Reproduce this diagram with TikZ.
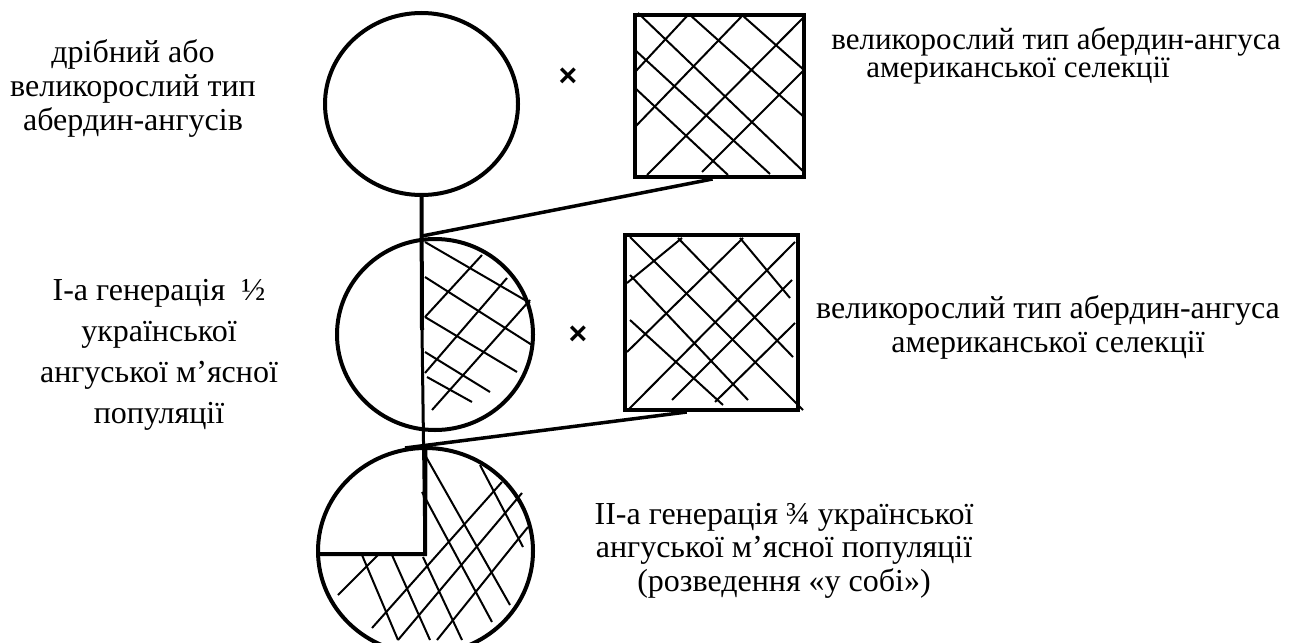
\documentclass[tikz,border=0pt]{standalone}
\usepackage{fontspec}
\setmainfont{Liberation Serif}
\newfontfamily\crossfont{Liberation Sans}
\usetikzlibrary{shapes.geometric,calc}
\begin{document}
\begin{tikzpicture}[x=0.5pt,y=-0.5pt,
  outl/.style={draw, line width=2pt, inner sep=0pt, fill=none},
  circ/.style={outl, ellipse},
  sq/.style={outl, rectangle},
  hatch/.style={line width=1pt},
  conn/.style={line width=1.75pt},
  lbl/.style={font=\fontsize{16}{16.75}\selectfont, align=center, inner sep=0pt, anchor=base},
  cross/.style={font=\crossfont\bfseries\fontsize{16}{16}\selectfont, inner sep=0pt}]
\useasboundingbox (0,0) rectangle (1299,642);

% hatching of the squares
\foreach \xa/\ya/\xb/\yb in {638/13/805/173, 690/15/804/117, 742/15/804/70, 635/50/770/174, 635/88/728/175,
                   688/15/635/72, 743/15/635/127, 804/17/647/175, 804/70/702/172}
  \draw[hatch] (\xa,\ya) -- (\xb,\yb);
\foreach \xa/\ya/\xb/\yb in {630/237/803/410, 678/238/793/357, 740/238/790/298, 630/275/748/400, 630/320/723/405,
                   682/238/627/283, 743/238/627/352, 795/242/628/410, 792/280/672/400, 795/323/715/402}
  \draw[hatch] (\xa,\ya) -- (\xb,\yb);
% hatching of circle 2 (right half)
\foreach \xa/\ya/\xb/\yb in {425/242/530/303, 425/277/532/345, 425/317/517/372, 425/352/490/392, 427/377/472/402,
                   425/317/482/255, 425/373/507/278, 432/410/530/300}
  \draw[hatch] (\xa,\ya) -- (\xb,\yb);
% hatching of circle 3 (three quarters)
\foreach \xa/\ya/\xb/\yb in {362/555/398/640, 392/555/430/640, 423/557/462/640, 422/492/492/622, 425/455/510/605,
                   480/465/523/547, 338/595/378/555, 372/628/502/482, 398/640/522/493, 437/640/528/527}
  \draw[hatch] (\xa,\ya) -- (\xb,\yb);

% parents and generations
\node[circ, minimum width=96.5pt, minimum height=91pt] (c1) at (421.5,104) {};
\node[sq, minimum width=84.5pt, minimum height=81pt] (s1) at (719.5,96) {};
\node[circ, minimum width=98pt, minimum height=95.5pt] (c2) at (435,334.5) {};
\node[sq, minimum width=86.5pt, minimum height=87.5pt] (s2) at (711.5,322.5) {};
\node[circ, minimum width=107.5pt, minimum height=103pt] (c3) at (425.5,551) {};

\node[cross] (x1) at (568,77) {×};
\node[cross] (x2) at (578,335) {×};

% connectors
\coordinate (j1) at (422,236);
\coordinate (j2) at (405,448);
\coordinate (m2) at (422,330);
\coordinate (m3) at (425,554);
\coordinate (w3) at (316,554);
\draw[conn] ($(s1.south west)!0.46!(s1.south east)$) -- (j1);
\draw[conn] ($(s2.south west)!0.36!(s2.south east)$) -- (j2);
\draw[conn, line width=2pt] (c1.south) -- (m2);
\draw[conn, line width=1.5pt] (m2) -- (m3);
\draw[conn, line width=2pt] (c3.north) -- (m3) -- (w3);

% labels (anchor=base sits on the last line's baseline)
\node[lbl] (t1) at (133,130) {дрібний або\\великорослий тип\\абердин-ангусів};
\node[lbl, font=\fontsize{16}{20.5}\selectfont] (t2) at (159,423) {І-а генерація \ ½\\української\\ангуської м’ясної\\популяції};
\node[lbl, align=left, font=\fontsize{15.5}{14}\selectfont] (t3) at (1056,78) {великорослий тип абердин-ангуса\\\hspace*{17.5pt}американської селекції};
\node[lbl] (t4) at (1048,352) {великорослий тип абердин-ангуса\\американської селекції};
\node[lbl] (t5) at (784,591) {ІІ-а генерація ¾ української\\ангуської м’ясної популяції\\(розведення «у собі»)};
\end{tikzpicture}
\end{document}
